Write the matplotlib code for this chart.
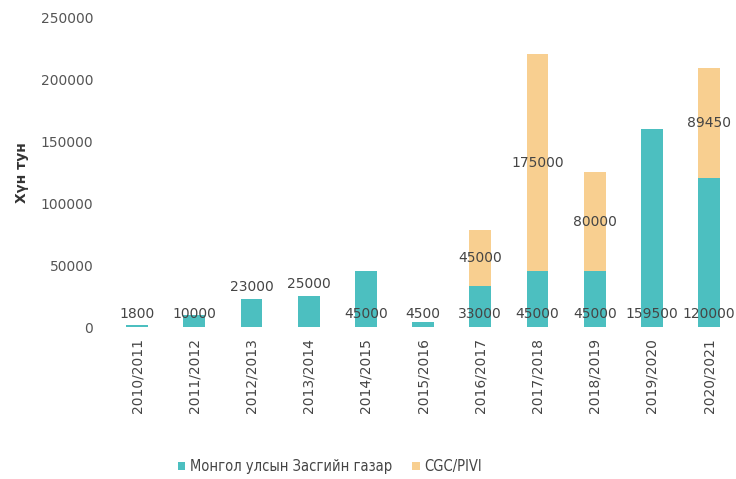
import numpy as np
import matplotlib.pyplot as plt
from matplotlib.font_manager import FontProperties

seasons = ["2010/2011", "2011/2012", "2012/2013", "2013/2014", "2014/2015",
           "2015/2016", "2016/2017", "2017/2018", "2018/2019", "2019/2020",
           "2020/2021"]
gov = [1800, 10000, 23000, 25000, 45000, 4500, 33000, 45000, 45000, 159500, 120000]
cgc = [0, 0, 0, 0, 0, 0, 45000, 175000, 80000, 0, 89450]

teal = "#4cbfc0"
orange = "#f8cf90"
txt = "#454545"

plt.rcParams['font.family'] = ['DejaVu Sans']

fig = plt.figure(figsize=(7.36, 4.79), dpi=100)
ax = fig.add_axes([0.138, 0.317, 0.862, 0.647])

x = np.arange(len(seasons))
w = 0.38
ax.bar(x, gov, w, color=teal, label="Монгол улсын Засгийн газар")
ax.bar(x, cgc, w, bottom=gov, color=orange, label="CGC/PIVI")

# labels of the government part: near the base, a couple sit above the bar
above = {2, 3}
fs = 10
for i, v in enumerate(gov):
    if i in above:
        ax.text(x[i], v + 4000, str(v), ha="center", va="bottom", fontsize=fs, color=txt)
    else:
        ax.text(x[i], 11000, str(v), ha="center", va="center", fontsize=fs, color=txt)
for i, v in enumerate(cgc):
    if v > 0:
        ax.text(x[i], gov[i] + v / 2, str(v), ha="center", va="center", fontsize=fs, color=txt)

ax.set_xlim(-0.62, 10.47)
ax.set_ylim(0, 250000)
ax.set_yticks(np.arange(0, 250001, 50000))
ax.set_xticks(x)
ax.set_xticklabels(seasons, rotation=90, fontsize=fs, color=txt)
ax.tick_params(axis="y", labelsize=fs, labelcolor="#555555", length=0, pad=6)
ax.tick_params(axis="x", length=0, pad=8)
for s in ax.spines.values():
    s.set_visible(False)
ax.set_ylabel("Хүн тун", fontsize=fs, fontweight="bold", color="#333333", labelpad=8)

legfont = FontProperties(family="DejaVu Sans", stretch="condensed", size=10.5)
fig.legend(loc="lower center", bbox_to_anchor=(0.448, -0.018), ncol=2, frameon=False,
           prop=legfont, handlelength=0.5, handleheight=0.5, columnspacing=1.4,
           handletextpad=0.3, labelcolor=txt)

fig.savefig("out.png", dpi=100)
